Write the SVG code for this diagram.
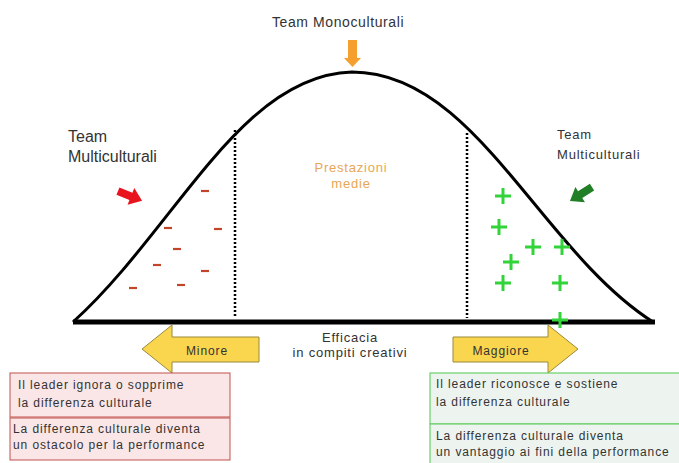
<svg xmlns="http://www.w3.org/2000/svg" width="679" height="463" viewBox="0 0 679 463">
<style>
text{font-family:"Liberation Sans",Arial,sans-serif;fill:#333}
.t13{font-size:13px;letter-spacing:0.8px}
.t12{font-size:12px;letter-spacing:0.9px}
.minus{stroke:#C0452B;stroke-width:2.2}
.plus{stroke:#33D43A;stroke-width:3;fill:none}
.dot{stroke:#000;stroke-width:2.5;stroke-dasharray:2 2}
.yarrow{fill:#FAD54E;stroke:#9A8A3A;stroke-width:1}
.rbox{fill:#FAE6E6;stroke:#C0504D;stroke-width:1}
.gbox{fill:#EDF4EF;stroke:#6ACF6A;stroke-width:1.2}
</style>
<rect width="679" height="463" fill="#fff"/>
<g id="curve">
<path d="M73,322 C175,230 240,75 352,72 C475,72 540,250 653,322" fill="none" stroke="#000" stroke-width="3"/>
<line x1="73" y1="322" x2="655" y2="322" stroke="#000" stroke-width="5"/>
<line class="dot" x1="235" y1="130" x2="235" y2="318"/>
<line class="dot" x1="467" y1="133" x2="467" y2="318"/>
</g>
<g id="mono">
<text x="338" y="27" text-anchor="middle" style="font-size:14px;letter-spacing:0.6px">Team Monoculturali</text>
<path d="M348,40 H357 V58 H361 L352.5,67 L344,58 H348 Z" fill="#F5A02E"/>
</g>
<g id="medie">
<text x="351" y="172" text-anchor="middle" class="t13" style="fill:#E9A652">Prestazioni</text>
<text x="351" y="188" text-anchor="middle" class="t13" style="fill:#E9A652">medie</text>
</g>
<g id="multi-left">
<text x="68" y="142" style="font-size:16px">Team</text>
<text x="68" y="162" style="font-size:16px">Multiculturali</text>
<path d="M-13,-4 H1 V-9 L13,0 L1,9 V4 H-13 Z" fill="#E8141E" transform="translate(130,196) rotate(22)"/>
</g>
<g id="multi-right">
<text x="557" y="139" class="t13">Team</text>
<text x="557" y="159" class="t13">Multiculturali</text>
<path d="M-13,-4 H1 V-9 L13,0 L1,9 V4 H-13 Z" fill="#217F25" transform="translate(581,194) rotate(148)"/>
</g>
<g id="minus-signs">
<line class="minus" x1="201" y1="191" x2="209" y2="191"/>
<line class="minus" x1="164" y1="228" x2="172" y2="228"/>
<line class="minus" x1="214" y1="229" x2="222" y2="229"/>
<line class="minus" x1="173" y1="249" x2="181" y2="249"/>
<line class="minus" x1="153" y1="265" x2="161" y2="265"/>
<line class="minus" x1="201" y1="271" x2="209" y2="271"/>
<line class="minus" x1="129" y1="288" x2="137" y2="288"/>
<line class="minus" x1="177" y1="285" x2="185" y2="285"/>
</g>
<g id="plus-signs">
<path class="plus" d="M495,196h16M503,188v16"/>
<path class="plus" d="M491,227h16M499,219v16"/>
<path class="plus" d="M525,247h16M533,239v16"/>
<path class="plus" d="M554,247h16M562,239v16"/>
<path class="plus" d="M503,262h16M511,254v16"/>
<path class="plus" d="M495,283h16M503,275v16"/>
<path class="plus" d="M552,283h16M560,275v16"/>
<path class="plus" d="M552,320h16M560,312v16"/>
</g>
<g id="axis-label">
<text x="350" y="342" text-anchor="middle" class="t13">Efficacia</text>
<text x="350" y="357" text-anchor="middle" class="t13">in compiti creativi</text>
</g>
<g id="minore">
<path class="yarrow" d="M142,349 L172,325 V337 H259 V362 H172 V373 Z"/>
<text x="207" y="355" text-anchor="middle" class="t12">Minore</text>
</g>
<g id="maggiore">
<path class="yarrow" d="M578,349 L548,325 V337 H453 V362 H548 V373 Z"/>
<text x="501" y="355" text-anchor="middle" class="t12">Maggiore</text>
</g>
<g id="left-box-top">
<rect class="rbox" x="10" y="373" width="220" height="44"/>
<text x="18" y="389" class="t12">Il leader ignora o sopprime</text>
<text x="18" y="407" class="t12">la differenza culturale</text>
</g>
<g id="left-box-bottom">
<rect class="rbox" x="10" y="418" width="220" height="42"/>
<text x="13" y="433" class="t12">La differenza culturale diventa</text>
<text x="13" y="449" class="t12">un ostacolo per la performance</text>
</g>
<g id="right-box-top">
<rect class="gbox" x="430" y="373" width="260" height="51"/>
<text x="436" y="388" class="t12">Il leader riconosce e sostiene</text>
<text x="436" y="406" class="t12">la differenza culturale</text>
</g>
<g id="right-box-bottom">
<rect class="gbox" x="430" y="424" width="260" height="45"/>
<text x="436" y="440" class="t12">La differenza culturale diventa</text>
<text x="436" y="456" class="t12">un vantaggio ai fini della performance</text>
</g>
</svg>
